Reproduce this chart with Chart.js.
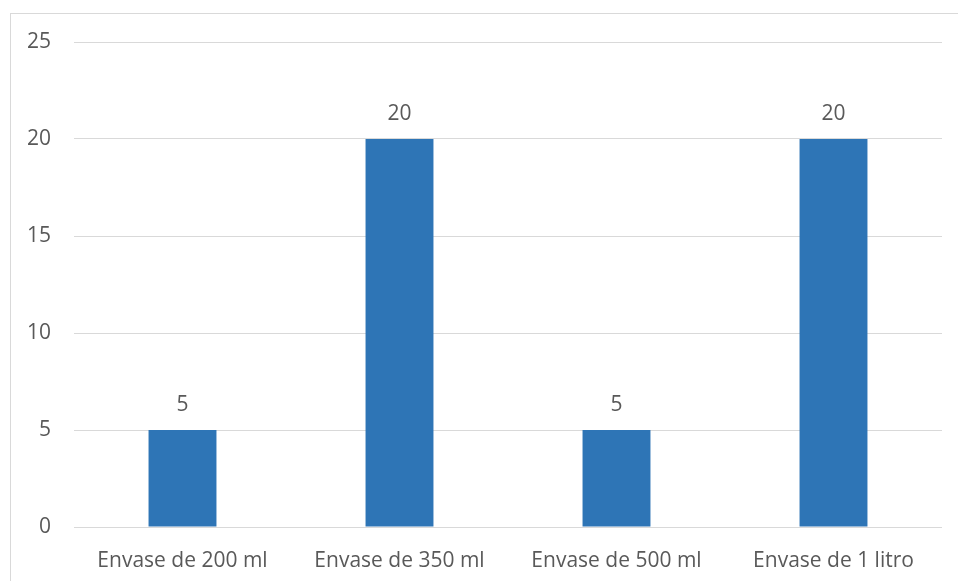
<!DOCTYPE html>
<html>
<head>
<meta charset="utf-8">
<script src="https://cdn.jsdelivr.net/npm/chart.js@4"></script>
<style>
  html, body { margin: 0; padding: 0; background: #fff; overflow: hidden; }
  #wrap { position: relative; width: 958px; height: 581px; }
  #frame { position: absolute; left: 10px; top: 13px; width: 1000px; height: 700px;
           border: 1px solid #d9d9d9; box-sizing: border-box; }
  canvas { position: absolute; left: 0; top: 0; }
</style>
</head>
<body>
<div id="wrap">
  <div id="frame"></div>
  <canvas id="chart" width="958" height="581"></canvas>
</div>
<script>
const categories = ['Envase de 200 ml', 'Envase de 350 ml', 'Envase de 500 ml', 'Envase de 1 litro'];
const values = [5, 20, 5, 20];
const yTicks = [0, 5, 10, 15, 20, 25];

const textColor = '#595959';
const fontFamily = '"Open Sans", "Noto Sans", sans-serif';
const fontSize = 21;

// Value labels above each bar
const barLabels = {
    id: 'barLabels',
    afterDatasetsDraw(chart) {
        const ctx = chart.ctx;
        const meta = chart.getDatasetMeta(0);
        ctx.save();
        ctx.fillStyle = textColor;
        ctx.font = fontSize + 'px ' + fontFamily;
        ctx.textAlign = 'center';
        ctx.textBaseline = 'alphabetic';
        meta.data.forEach((bar, i) => {
            ctx.fillText(values[i], bar.x, bar.y - 19);
        });
        ctx.restore();
    }
};

new Chart(document.getElementById('chart'), {
    type: 'bar',
    data: {
        labels: categories,
        datasets: [{
            data: values,
            backgroundColor: '#2e75b6',
            categoryPercentage: 1,
            barPercentage: 0.313
        }]
    },
    options: {
        responsive: false,
        animation: false,
        layout: { padding: { left: 0, top: 42, right: 16, bottom: 0 } },
        plugins: {
            legend: { display: false },
            tooltip: { enabled: false }
        },
        scales: {
            x: {
                grid: { display: false, drawTicks: false },
                border: { display: false },
                ticks: { color: textColor, font: { size: fontSize, family: fontFamily }, padding: 21 },
                afterFit(scale) { scale.height = 54; }
            },
            y: {
                min: 0,
                max: 25,
                afterBuildTicks(scale) { scale.ticks = yTicks.map(v => ({ value: v })); },
                grid: { color: '#d9d9d9', lineWidth: 1, drawTicks: false },
                border: { display: false },
                ticks: { color: textColor, font: { size: fontSize, family: fontFamily }, padding: 23 },
                afterFit(scale) { scale.width = 74; }
            }
        }
    },
    plugins: [barLabels]
});
</script>
</body>
</html>
